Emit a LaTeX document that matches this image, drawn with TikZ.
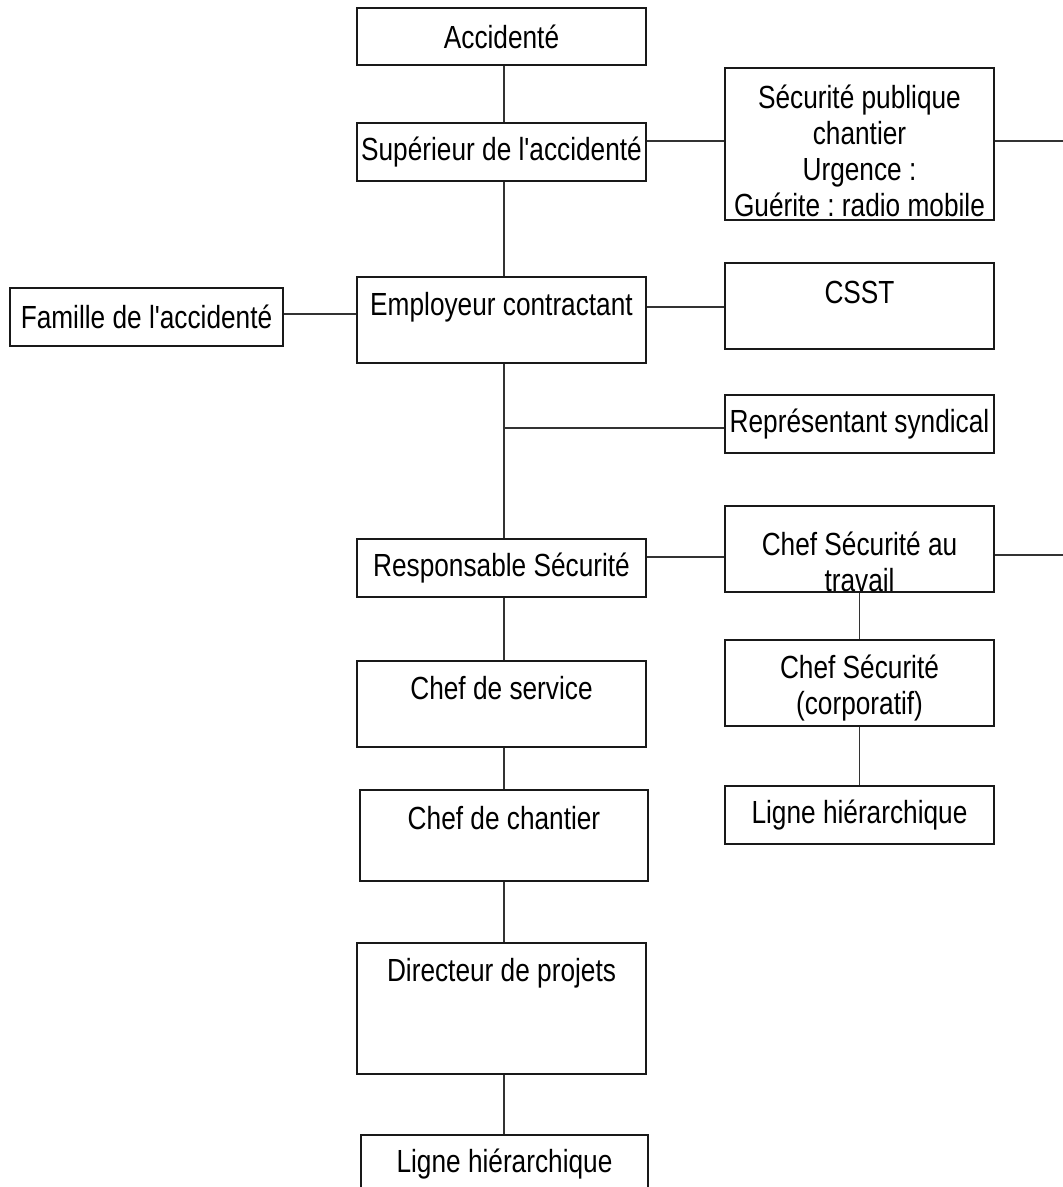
\documentclass[tikz,border=0pt]{standalone}
\usepackage{fontspec}
\newfontfamily\libfont{Liberation Sans}[FakeStretch=0.82]
\newcommand\diagfont{\libfont\fontsize{32}{36}\selectfont\frenchspacing}
\begin{document}
\begin{tikzpicture}[x=1pt,y=-1pt,
  box/.style={draw=black!90, line width=1.6pt, inner sep=0pt, align=center, font=\diagfont},
  mainbox/.style={box, minimum width=289pt},
  sidebox/.style={box, minimum width=269pt},
  txt/.style={align=center, inner sep=0pt, font=\diagfont},
  link/.style={draw=black!80, line width=1.4pt}]
\clip (0,0) rectangle (1063,1187);
\fill[white] (0,0) rectangle (1063,1187);

% main column
\node[mainbox, minimum height=57pt] (acc) at (501.5,36.5) {Accidenté};
\node[mainbox, minimum height=58pt] (sup) at (501.5,152) {Supérieur de l'accidenté};
\node[mainbox, minimum height=86pt, label={[txt,yshift=13pt]center:Employeur contractant}] (emp) at (501.5,320) {};
\node[mainbox, minimum height=58pt] (resp) at (501.5,568) {Responsable Sécurité};
\node[mainbox, minimum height=86pt, label={[txt,yshift=16pt]center:Chef de service}] (serv) at (501.5,704) {};
\node[box, minimum width=288pt, minimum height=91pt, label={[txt,yshift=17.5pt]center:Chef de chantier}] (chant) at (504,835.5) {};
\node[mainbox, minimum height=131pt, label={[txt,yshift=35.5pt]center:Directeur de projets}] (dir) at (501.5,1008.5) {};
\node[box, minimum width=287pt, minimum height=58pt] (lig1) at (504.5,1164) {Ligne hiérarchique};

% left
\node[box, minimum width=273pt, minimum height=58pt] (fam) at (146.5,317) {Famille de l'accidenté};

% right column
\node[sidebox, minimum height=152pt, label={[txt,yshift=-6.5pt]center:Sécurité publique\\chantier\\Urgence :\\Guérite : radio mobile}] (secpub) at (859.5,144) {};
\node[sidebox, minimum height=86pt, label={[txt,yshift=14pt]center:CSST}] (csst) at (859.5,306) {};
\node[sidebox, minimum height=58pt] (rep) at (859.5,424) {Représentant syndical};
\node[sidebox, minimum height=86pt, label={[txt,yshift=-12.5pt]center:Chef Sécurité au\\travail}] (chefst) at (859.5,549) {};
\node[sidebox, minimum height=86pt, label={[txt,yshift=-5.5pt]center:Chef Sécurité\\(corporatif)}] (chefcorp) at (859.5,683) {};
\node[sidebox, minimum height=58pt] (lig2) at (859.5,815) {Ligne hiérarchique};

% helper coordinates
\coordinate (sp) at (504,0);
\coordinate (ya) at (0,141);
\coordinate (yb) at (0,307);
\coordinate (yc) at (0,314);
\coordinate (br) at (504,428);
\coordinate (yd) at (0,557);
\coordinate (e1) at (1063,141);
\coordinate (e2) at (1063,555);

% spine
\draw[link] (acc.south -| sp) -- (sup.north -| sp);
\draw[link] (sup.south -| sp) -- (emp.north -| sp);
\draw[link] (emp.south -| sp) -- (resp.north -| sp);
\draw[link] (resp.south -| sp) -- (serv.north -| sp);
\draw[link] (serv.south -| sp) -- (chant.north -| sp);
\draw[link] (chant.south -| sp) -- (dir.north -| sp);
\draw[link] (dir.south -| sp) -- (lig1.north -| sp);

% branches
\draw[link] (sup.east |- ya) -- (secpub.west |- ya);
\draw[link] (secpub.east |- ya) -- (e1);
\draw[link] (emp.east |- yb) -- (csst.west |- yb);
\draw[link] (fam.east |- yc) -- (emp.west |- yc);
\draw[link] (br) -- (br -| rep.west);
\draw[link] (resp.east |- yd) -- (chefst.west |- yd);
\draw[link] (chefst.east |- e2) -- (e2);
\draw[link] (chefst.south) -- (chefcorp.north);
\draw[link] (chefcorp.south) -- (lig2.north);
\end{tikzpicture}
\end{document}
